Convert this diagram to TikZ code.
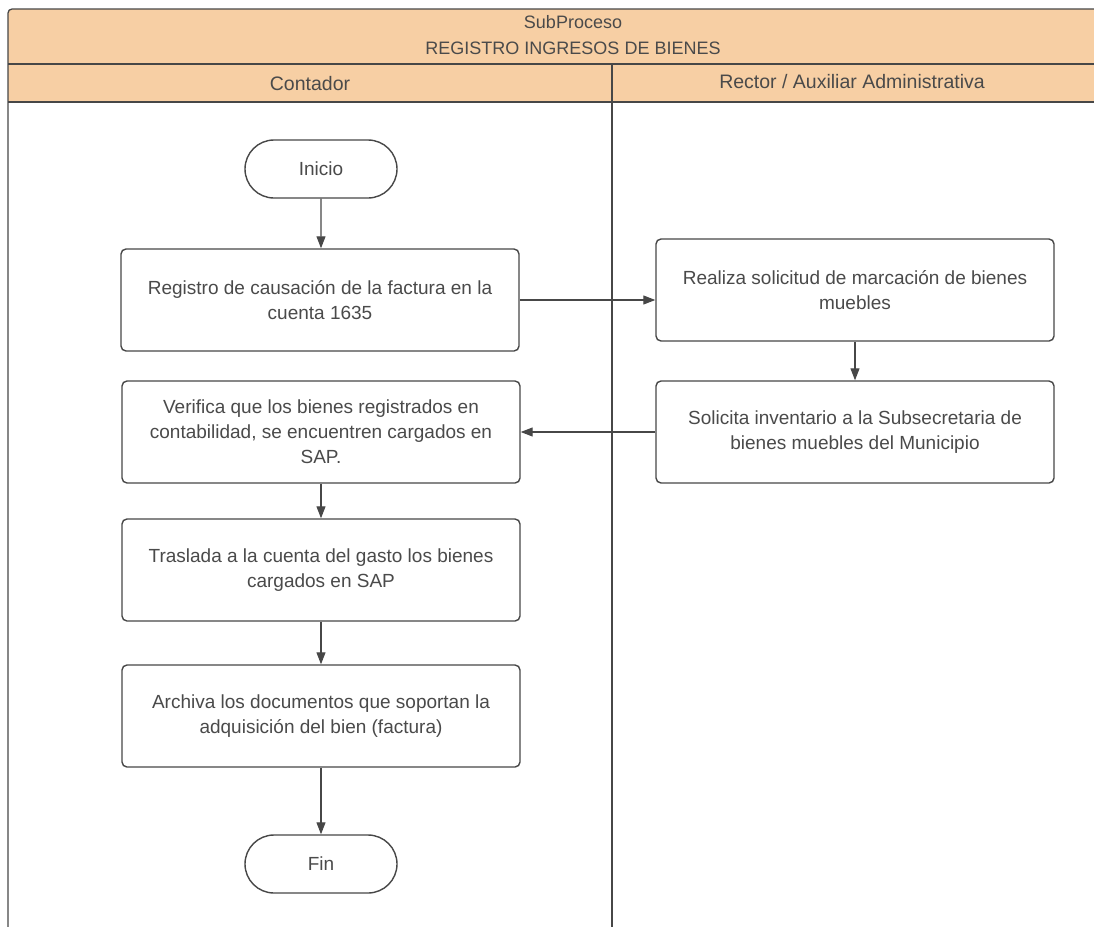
\documentclass[tikz,border=0pt]{standalone}
\usepackage{fontspec}
\setmainfont{Liberation Sans}
\usetikzlibrary{arrows.meta,shapes.misc}
\definecolor{hdrfill}{HTML}{F7CFA4}
\definecolor{linecol}{HTML}{474747}
\definecolor{txtcol}{HTML}{4A4A4A}
\begin{document}
\begin{tikzpicture}[x=1pt,y=-1pt,
  frame/.style={draw=linecol, line width=1.3pt},
  proc/.style={draw=linecol, line width=1.4pt, rounded corners=5pt, fill=white,
    minimum width=398pt, minimum height=102pt, align=center, text=txtcol,
    font=\fontsize{19}{25}\selectfont, inner sep=0pt},
  term/.style={draw=linecol, line width=1.4pt, rounded rectangle, fill=white,
    minimum width=152pt, minimum height=58pt, text=txtcol,
    font=\fontsize{19}{22}\selectfont, inner sep=0pt},
  hdrtext/.style={text=txtcol, font=\fontsize{18}{22}\selectfont, inner sep=0pt},
  lanetext/.style={text=txtcol, font=\fontsize{19.5}{22}\selectfont, inner sep=0pt},
  flow/.style={draw=linecol, line width=1.1pt, -{Triangle[length=12pt,width=9pt]}}
]
\useasboundingbox (0,0) rectangle (1094,926);
\clip (0,0) rectangle (1094,926);

% header bands and swimlane frame
\fill[hdrfill, rounded corners=4pt] (8,102) -- (8,9) -- (1100,9) [sharp corners] -- (1100,102) -- cycle;
\draw[frame, rounded corners=4pt] (8,930) -- (8,9) -- (1100,9);
\draw[frame] (8,64) -- (1100,64);
\draw[frame] (8,102) -- (1100,102);
\draw[frame] (612,64) -- (612,930);

\node[hdrtext] (sub) at (573,22) {SubProceso};
\node[hdrtext] (title) at (573,48) {REGISTRO INGRESOS DE BIENES};
\node[lanetext] (laneA) at (310,84) {Contador};
\node[lanetext] (laneB) at (852,82) {Rector / Auxiliar Administrativa};

% flow nodes
\node[term] (ini) at (321,169) {Inicio};
\node[proc] (b1) at (320,300) {Registro de causación de la factura en la\\cuenta 1635};
\node[proc] (r1) at (855,290) {Realiza solicitud de marcación de bienes\\muebles};
\node[proc] (r2) at (855,432) {Solicita inventario a la Subsecretaria de\\bienes muebles del Municipio};
\node[proc] (b2) at (321,432) {Verifica que los bienes registrados en\\contabilidad, se encuentren cargados en\\SAP.};
\node[proc] (b3) at (321,570) {Traslada a la cuenta del gasto los bienes\\cargados en SAP};
\node[proc] (b4) at (321,716) {Archiva los documentos que soportan la\\adquisición del bien (factura)};
\node[term] (fin) at (321,864) {Fin};

% connectors
\draw[flow] (ini) -- (b1.north -| ini);
\draw[flow] (b1.east) -- (b1.east -| r1.west);
\draw[flow] (r1.south -| r1) -- (r2.north -| r1);
\draw[flow] (r2.west) -- (r2.west -| b2.east);
\draw[flow] (b2) -- (b3);
\draw[flow] (b3) -- (b4);
\draw[flow] (b4) -- (fin);
\end{tikzpicture}
\end{document}
